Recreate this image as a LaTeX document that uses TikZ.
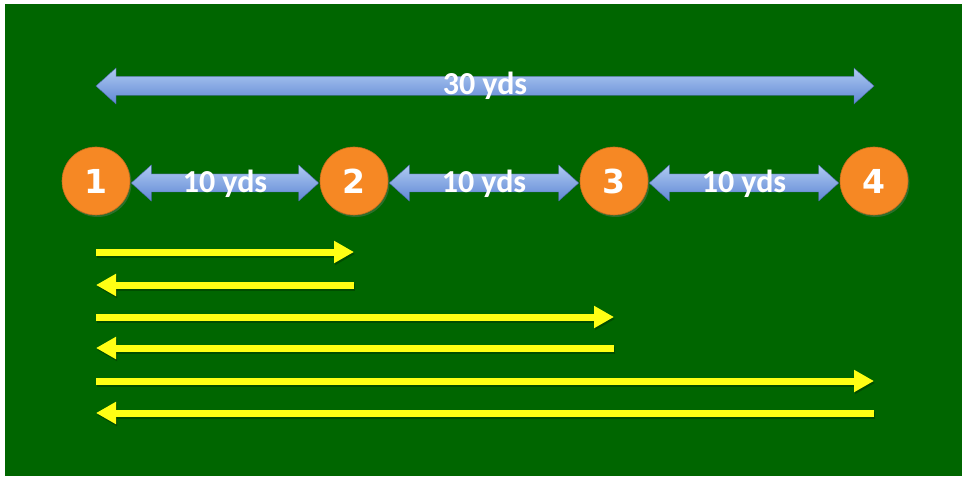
\documentclass[tikz,border=0pt]{standalone}
\usepackage{fontspec}
\setmainfont{Carlito}
\newfontfamily\numfont{DejaVu Sans}
\usetikzlibrary{calc,arrows.meta,shadows}
\definecolor{field}{RGB}{0,102,0}
\definecolor{cone}{RGB}{246,136,36}
\definecolor{bluetop}{RGB}{175,202,242}
\definecolor{bluebot}{RGB}{95,135,212}
\definecolor{yel}{RGB}{255,255,20}
\newcommand\myDblArrow[5]{%
  % #1 left tip, #2 right tip, #3 shaft half height, #4 head half height, #5 head length
  ($(#1)$) -- ($(#1)+(#5,-#4)$) -- ($(#1)+(#5,-#3)$) -- ($(#2)+(-#5,-#3)$) --
  ($(#2)+(-#5,-#4)$) -- ($(#2)$) -- ($(#2)+(-#5,#4)$) -- ($(#2)+(-#5,#3)$) --
  ($(#1)+(#5,#3)$) -- ($(#1)+(#5,#4)$) -- cycle}
\tikzset{
  conenode/.style={circle, fill=cone, draw=cone!80!black, line width=0.6pt,
    minimum size=68pt, inner sep=0pt, text=white,
    font=\numfont\bfseries\fontsize{33}{33}\selectfont,
    drop shadow={shadow xshift=1.5pt, shadow yshift=-2pt, opacity=0.35}},
  bluearrow/.style={top color=bluetop, bottom color=bluebot, draw=bluebot!80!black, line width=0.4pt},
  blueshadow/.style={fill=black, opacity=0.3},
  yardlbl/.style={text=white, font=\bfseries\fontsize{32}{32}\selectfont, inner sep=0pt},
  yelarrow/.style={draw=yel, line width=7pt, -{Triangle[width=21pt,length=20pt]}},
  yelshadow/.style={draw=black, opacity=0.25, line width=7pt, -{Triangle[width=21pt,length=20pt]}},
}
\begin{document}
\begin{tikzpicture}[x=1pt,y=-1pt]
\useasboundingbox (0,0) rectangle (965,478);
\fill[white] (0,0) rectangle (965,478);
\fill[field] (5,4) rectangle (962,476);

% cones
\node[conenode] (c1) at (96,181) {1};
\node[conenode] (c2) at (354,181) {2};
\node[conenode] (c3) at (614,181) {3};
\node[conenode] (c4) at (874,181) {4};

% 30 yds arrow
\coordinate (t30l) at (c1 |- 0,86);
\coordinate (t30r) at (c4 |- 0,86);
\begin{scope}[shift={(1.5,2.5)}]
\fill[blueshadow] \myDblArrow{t30l}{t30r}{9.5}{18}{20};
\end{scope}
\path[bluearrow] \myDblArrow{t30l}{t30r}{9.5}{18}{20};
\node[yardlbl, anchor=base] (l30) at ($(t30l)!0.5!(t30r)+(0,9)$) {30 yds};

% 10 yds arrows
\foreach \a/\b/\n in {c1/c2/a, c2/c3/b, c3/c4/c}{
  \coordinate (\n l) at ($(\a.east)+(1,2)$);
  \coordinate (\n r) at ($(\b.west)+(-1,2)$);
  \begin{scope}[shift={(1.5,2.5)}]
  \fill[blueshadow] \myDblArrow{\n l}{\n r}{9}{18}{20};
  \end{scope}
  \path[bluearrow] \myDblArrow{\n l}{\n r}{9}{18}{20};
  \node[yardlbl, anchor=base] (l\n) at ($(\n l)!0.5!(\n r)+(0,10)$) {10 yds};
}

% yellow running arrows
\coordinate (r1a) at (c1 |- 0,252); \coordinate (r1b) at (c2 |- 0,252);
\coordinate (r2a) at (c2 |- 0,285); \coordinate (r2b) at (c1 |- 0,285);
\coordinate (r3a) at (c1 |- 0,317); \coordinate (r3b) at (c3 |- 0,317);
\coordinate (r4a) at (c3 |- 0,348); \coordinate (r4b) at (c1 |- 0,348);
\coordinate (r5a) at (c1 |- 0,381); \coordinate (r5b) at (c4 |- 0,381);
\coordinate (r6a) at (c4 |- 0,413); \coordinate (r6b) at (c1 |- 0,413);
\foreach \r in {1,...,6}{
  \draw[yelshadow] ([shift={(1,2)}]r\r a) -- ([shift={(1,2)}]r\r b);
  \draw[yelarrow] (r\r a) -- (r\r b);
}
\end{tikzpicture}
\end{document}
